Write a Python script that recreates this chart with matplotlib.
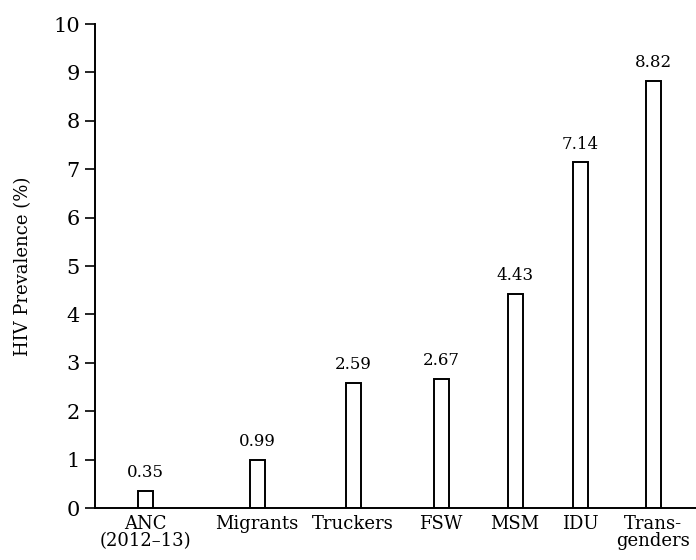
import matplotlib
matplotlib.use("Agg")
import matplotlib.pyplot as plt

categories = ["ANC\n(2012\u201313)", "Migrants", "Truckers", "FSW", "MSM", "IDU", "Trans-\ngenders"]
prevalence = [0.35, 0.99, 2.59, 2.67, 4.43, 7.14, 8.82]
value_labels = ["0.35", "0.99", "2.59", "2.67", "4.43", "7.14", "8.82"]
yticks = [0, 1, 2, 3, 4, 5, 6, 7, 8, 9, 10]

# layout (horizontal placement of bars, axis units ~ pixels)
xpos = [50, 162, 258, 346, 420, 485, 558]

plt.rcParams['font.family'] = ['DejaVu Serif']
fig = plt.figure(figsize=(6.96, 5.6), dpi=100)
ax = fig.add_axes([95/696, 1 - 508/560, 1 - 95/696, (508 - 24)/560])

ax.bar(xpos, prevalence, width=15, facecolor='white', edgecolor='black', linewidth=1.4)
for x, v, t in zip(xpos, prevalence, value_labels):
    ax.annotate(t, (x, v), xytext=(0, 7), textcoords='offset points',
                ha='center', va='bottom', fontsize=12)

ax.set_xlim(0, 601)
ax.set_ylim(0, 10)
ax.set_yticks(yticks)
ax.set_yticklabels([str(t) for t in yticks], fontsize=15)
ax.set_xticks(xpos)
ax.set_xticklabels(categories, fontsize=13, linespacing=0.95)
ax.tick_params(axis='x', length=0, pad=5)
ax.tick_params(axis='y', length=7, width=1.2, pad=4)
ax.set_ylabel("HIV Prevalence (%)", fontsize=13, labelpad=15)
for s in ['top', 'right']:
    ax.spines[s].set_visible(False)
for s in ['left', 'bottom']:
    ax.spines[s].set_linewidth(1.4)

fig.savefig("out.png", dpi=100)
